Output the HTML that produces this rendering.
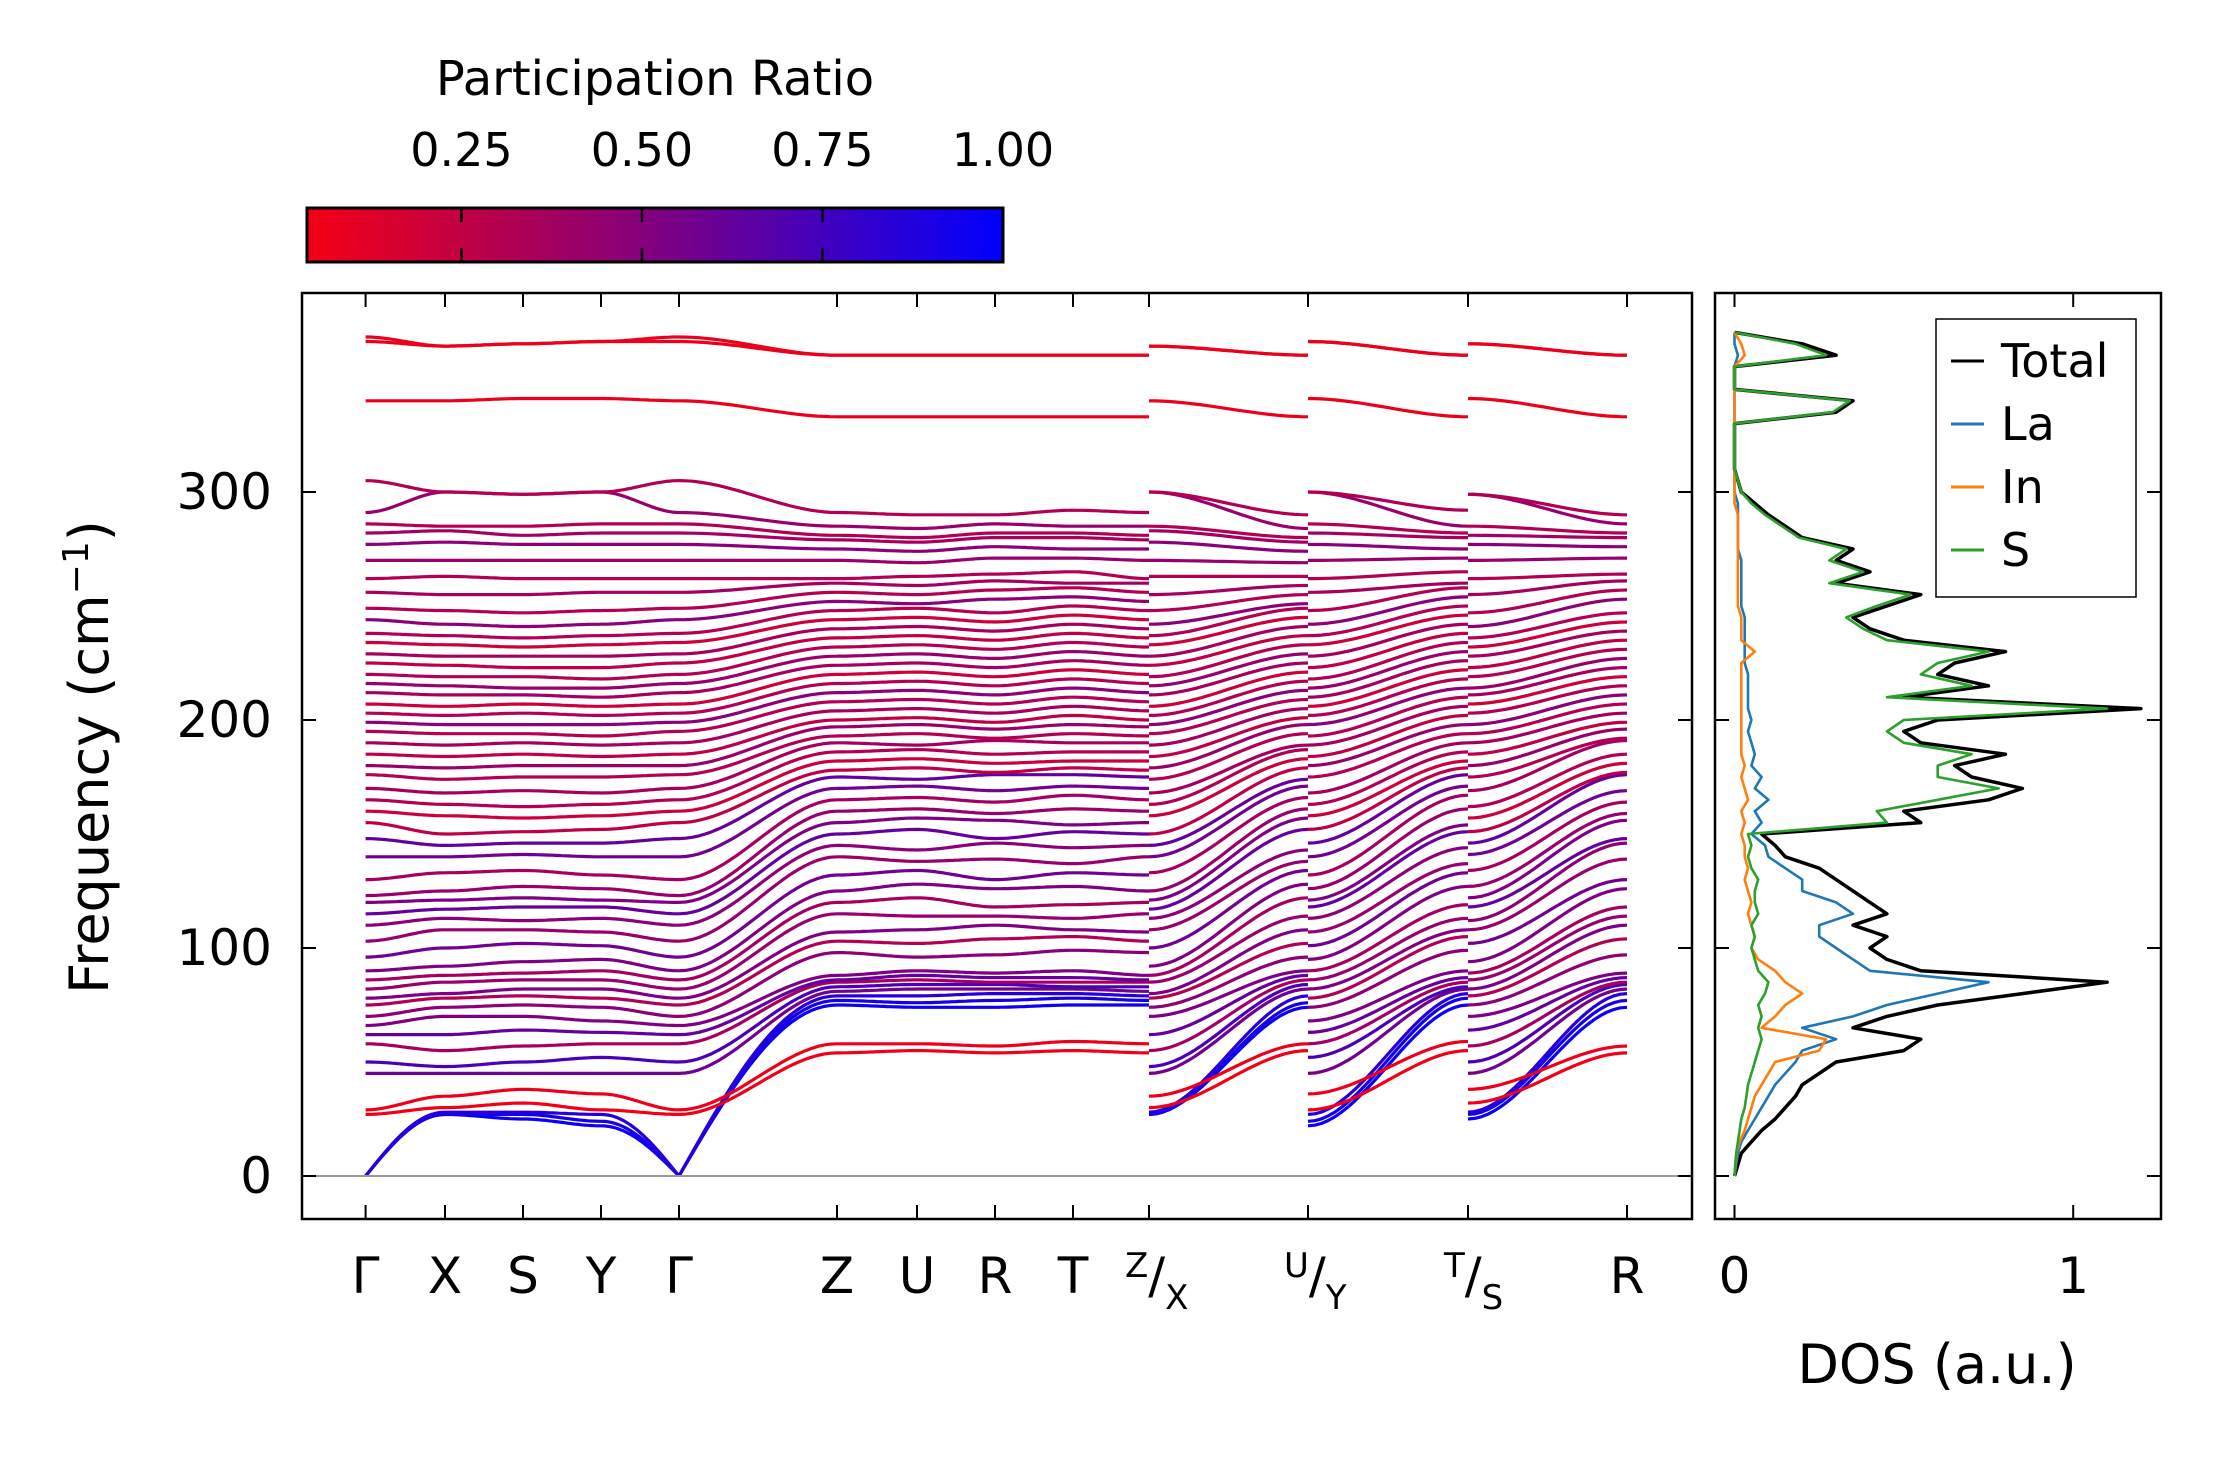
<!DOCTYPE html>
<html><head><meta charset="utf-8">
<style>
html,body{margin:0;padding:0;background:#fff;}
body{width:2222px;height:1455px;position:relative;overflow:hidden;font-family:"Liberation Sans","DejaVu Sans",sans-serif;}
svg text{font-family:"DejaVu Sans","Liberation Sans",sans-serif;fill:#000;}
</style></head>
<body>
<svg id="fig" width="2222" height="1455" viewBox="0 0 2222 1455" xmlns="http://www.w3.org/2000/svg">
<defs>
<linearGradient id="cbgrad" x1="0" x2="1" y1="0" y2="0">
<stop offset="0" stop-color="rgb(245,0,20)"/>
<stop offset="0.5" stop-color="rgb(128,0,128)"/>
<stop offset="1" stop-color="rgb(0,0,255)"/>
</linearGradient>
<clipPath id="mainclip"><rect x="302" y="293" width="1390" height="926"/></clipPath>
<clipPath id="dosclip"><rect x="1715" y="293" width="446" height="926"/></clipPath>
</defs>
<g id="colorbar">
<text x="655" y="95" font-size="48" text-anchor="middle">Participation Ratio</text>
<rect x="307" y="208" width="696" height="54" fill="url(#cbgrad)" stroke="#000" stroke-width="3"/>
</g>
<g id="bands" clip-path="url(#mainclip)"></g>
<g id="dos" clip-path="url(#dosclip)"></g>
<g id="axes"></g>
<text transform="translate(108,757) rotate(-90)" font-size="54" text-anchor="middle">Frequency (cm<tspan font-size="36" dy="-20">−1</tspan><tspan dy="20">)</tspan></text>
<text x="1937" y="1383" font-size="54" text-anchor="middle">DOS (a.u.)</text>
<g id="legend">
<rect x="1936" y="319" width="200" height="278" fill="#fff" stroke="#000" stroke-width="1.5"/>
</g>
</svg>
<script>
// ---- band data (frequencies in cm^-1 at high-symmetry points) ----
const kLabels = ["Γ","X","S","Y","Γ","Z","U","R","T","Z/X","U/Y","T/S","R"];
const bandsG = [0,0,0,27,29,45,50,58,62,66,70,75,78,82,86,90,96,103,110,115,120,123,130,140,148,155,160,165,170,176,180,185,190,195,199,203,207,212,216,220,225,229,234,238,244,249,256,262,270,277,282,286,291,305,340,366,368];
const bandsX = [27,27,28,30,35,45,48,55,62,70,74,78,80,85,88,92,100,108,113,117,121,125,133,140,145,150,158,163,168,174,179,184,189,194,198,202,206,211,215,219,224,228,233,237,242,248,255,263,270,278,283,285,300,300,340,364,364];
const bandsS = [25,27,28,32,38,45,50,57,64,70,75,79,82,86,89,94,102,108,112,118,122,127,134,141,146,151,157,162,169,175,180,185,190,194,198,203,207,211,214,219,223,228,232,236,241,247,255,262,270,277,281,285,299,299,341,365,365];
const bandsY = [22,24,27,29,36,45,52,58,63,68,74,78,82,86,90,95,101,107,113,118,121,126,132,140,146,152,158,163,168,175,180,184,189,193,198,202,206,210,214,218,223,228,233,237,242,248,256,262,270,277,282,286,300,300,341,366,366];
const bandsZ = [75,77,79,54,58,81,83,85,86,88,98,103,107,115,120,125,132,140,145,150,155,160,165,170,175,178,182,186,190,193,197,200,204,208,212,216,220,224,228,232,236,240,244,248,252,256,260,262,270,275,279,281,285,291,333,360,360];
const bandsU = [74,76,79,55,58,82,84,86,88,90,96,102,108,114,122,128,134,138,143,152,157,161,166,171,174,179,183,187,189,194,198,201,205,209,213,217,221,225,229,233,237,241,245,249,251,255,259,263,269,274,278,280,284,290,333,360,360];
const bandsR = [74,77,80,54,57,82,84,85,87,89,97,104,110,114,118,126,130,139,146,148,156,159,164,169,176,177,181,185,191,192,196,199,203,207,211,215,219,223,227,231,235,239,243,247,253,257,261,264,271,276,280,282,286,290,333,360,360];
const bandsT = [75,78,80,55,59,82,83,85,87,90,99,105,108,113,119,127,133,137,144,151,154,161,167,171,176,179,182,186,190,194,198,202,206,210,214,218,222,226,230,234,238,242,246,250,254,258,260,265,271,275,280,282,285,292,333,360,360];
const bandPR = [0.95,0.92,0.85,0.05,0.06,0.55,0.7,0.35,0.6,0.5,0.45,0.3,0.5,0.4,0.35,0.5,0.55,0.4,0.45,0.6,0.5,0.4,0.35,0.55,0.6,0.25,0.2,0.3,0.35,0.3,0.4,0.25,0.35,0.3,0.45,0.3,0.2,0.35,0.4,0.3,0.25,0.35,0.2,0.3,0.45,0.3,0.35,0.3,0.4,0.45,0.35,0.3,0.4,0.3,0.07,0.07,0.07];
// ---- DOS data (per 5 cm^-1) ----
const dosFreq = [0,5,10,15,20,25,30,35,40,45,50,55,60,65,70,75,80,85,90,95,100,105,110,115,120,125,130,135,140,145,150,155,160,165,170,175,180,185,190,195,200,205,210,215,220,225,230,235,240,245,250,255,260,265,270,275,280,285,290,295,300,305,310,315,320,325,330,335,340,345,350,355,360,365,370];
const dosTotal = [0,0.01,0.02,0.05,0.08,0.12,0.15,0.18,0.2,0.25,0.3,0.5,0.55,0.35,0.45,0.6,0.85,1.1,0.55,0.45,0.4,0.45,0.35,0.45,0.4,0.35,0.3,0.25,0.15,0.12,0.08,0.55,0.5,0.75,0.85,0.7,0.65,0.8,0.55,0.5,0.6,1.2,0.5,0.75,0.6,0.65,0.8,0.5,0.4,0.35,0.45,0.55,0.3,0.4,0.3,0.35,0.2,0.15,0.1,0.06,0.02,0.01,0,0,0,0,0,0.3,0.35,0,0,0,0.3,0.2,0];
const dosLa = [0,0.005,0.01,0.02,0.04,0.06,0.08,0.1,0.12,0.15,0.18,0.2,0.3,0.2,0.35,0.45,0.6,0.75,0.4,0.35,0.3,0.25,0.25,0.35,0.3,0.2,0.2,0.15,0.1,0.09,0.05,0.08,0.06,0.1,0.06,0.08,0.05,0.06,0.05,0.04,0.05,0.04,0.04,0.04,0.04,0.03,0.03,0.03,0.03,0.03,0.02,0.02,0.02,0.02,0.02,0.01,0.01,0.01,0.01,0.01,0,0,0,0,0,0,0,0,0,0,0,0,0.01,0,0];
const dosIn = [0,0.003,0.006,0.015,0.03,0.04,0.05,0.06,0.08,0.1,0.12,0.25,0.27,0.08,0.12,0.15,0.2,0.15,0.12,0.07,0.05,0.06,0.05,0.04,0.05,0.04,0.03,0.04,0.03,0.03,0.02,0.03,0.02,0.04,0.03,0.02,0.03,0.02,0.02,0.02,0.02,0.02,0.02,0.02,0.02,0.02,0.06,0.02,0.02,0.02,0.01,0.01,0.01,0.01,0.01,0.01,0.01,0.01,0.01,0,0,0,0,0,0,0,0,0,0,0,0,0,0.03,0.02,0];
const dosS = [0,0.002,0.005,0.01,0.015,0.02,0.03,0.035,0.04,0.05,0.06,0.07,0.08,0.07,0.08,0.07,0.09,0.1,0.07,0.06,0.05,0.06,0.05,0.07,0.06,0.06,0.07,0.05,0.04,0.05,0.04,0.45,0.42,0.6,0.78,0.6,0.6,0.7,0.5,0.45,0.5,1.1,0.45,0.7,0.55,0.6,0.75,0.45,0.38,0.33,0.42,0.52,0.28,0.38,0.28,0.33,0.19,0.14,0.09,0.05,0.02,0.01,0,0,0,0,0,0.29,0.34,0,0,0,0.27,0.18,0];
const dosLabels = ["Total","La","In","S"];
const yTicks = [0,100,200,300];
const cbTicks = [0.25,0.5,0.75,1.0];

// ---- scales ----
const NS = "http://www.w3.org/2000/svg";
const kX = [365.6,445,523,601,679,837,917,995,1073,1149,1308,1468,1627];
function yS(f){ return 1176 - f*2.28; }
function dX(v){ return 1734.5 + v*338.7; }
function cbX(v){ return 307 + (v-0.036)/(1-0.036)*696; }
function prColor(p){ const t=Math.max(0,Math.min(1,(p-0.036)/0.964)); return `rgb(${Math.round(245*(1-t))},0,${Math.round(20+235*t)})`; }
function mk(tag, attrs, parent){ const e=document.createElementNS(NS,tag); for(const k in attrs) e.setAttribute(k,attrs[k]); parent.appendChild(e); return e; }

// ---- bands ----
const segs = [[bandsG,bandsX,0,1],[bandsX,bandsS,1,2],[bandsS,bandsY,2,3],[bandsY,bandsG,3,4],[bandsG,bandsZ,4,5],[bandsZ,bandsU,5,6],[bandsU,bandsR,6,7],[bandsR,bandsT,7,8],[bandsT,bandsZ,8,9],[bandsX,bandsU,9,10],[bandsY,bandsT,10,11],[bandsS,bandsR,11,12]];
const gB = document.getElementById('bands');
for(let b=0;b<bandsG.length;b++){
  let d="";
  for(const s of segs){
    const a=s[0][b], c=s[1][b], x0=kX[s[2]], x1=kX[s[3]];
    const n=24;
    for(let i=0;i<=n;i++){
      const t=i/n; const acoustic = (s[0]===bandsG && b<3) || (s[1]===bandsG && b<3 && s[0]!==bandsG);
      let w;
      if(acoustic){ w = s[0]===bandsG ? Math.sin(t*Math.PI/2) : 1-Math.cos(t*Math.PI/2); }
      else w = t*t*(3-2*t);
      const f=a+(c-a)*w;
      d += (i===0?"M":"L")+(x0+(x1-x0)*t).toFixed(1)+","+yS(f).toFixed(1);
    }
  }
  const p=mk('path',{d:d,fill:'none',stroke:prColor(bandPR[b]),'stroke-width':3.2,'stroke-linejoin':'round'},gB);
  
  
}

// ---- DOS ----
const gD=document.getElementById('dos');
const dosSeries=[[dosTotal,'#000'],[dosLa,'#1f77b4'],[dosIn,'#ff7f0e'],[dosS,'#2ca02c']];
dosSeries.forEach((s,k)=>{
  let d="";
  dosFreq.forEach((f,i)=>{ d+=(i?"L":"M")+dX(s[0][i]).toFixed(1)+","+yS(f).toFixed(1); });
  const p=mk('path',{d:d,fill:'none',stroke:s[1],'stroke-width':k===0?3.5:2.6,'stroke-linejoin':'round'},gD);
  
  
});

// ---- legend ----
const gL=document.getElementById('legend');
dosSeries.forEach((s,k)=>{
  const y=361+k*63;
  const ln=mk('line',{x1:1951,x2:1984,y1:y,y2:y,stroke:s[1],'stroke-width':3},gL);
  
  
  const t=mk('text',{x:2001,y:y+16,'font-size':46},gL);
  t.textContent=dosLabels[k];
  
  
});

// ---- axes ----
const gA=document.getElementById('axes');
const zl=mk('line',{x1:302,x2:1692,y1:yS(0),y2:yS(0),stroke:'#999','stroke-width':2},gA);


const fr1=mk('rect',{x:302,y:293,width:1390,height:926,fill:'none',stroke:'#000','stroke-width':2.5},gA);


const fr2=mk('rect',{x:1715,y:293,width:446,height:926,fill:'none',stroke:'#000','stroke-width':2.5},gA);


yTicks.forEach(v=>{
  const y=yS(v);
  [[302,316],[1678,1692],[1715,1729],[2147,2161]].forEach(p=>mk('line',{x1:p[0],x2:p[1],y1:y,y2:y,stroke:'#000','stroke-width':2},gA));
  const t=mk('text',{x:272,y:y+17,'font-size':50,'text-anchor':'end'},gA);
  t.textContent=String(v);
  
  
});
kX.forEach((x,i)=>{
  mk('line',{x1:x,x2:x,y1:1219,y2:1205,stroke:'#000','stroke-width':2},gA);
  mk('line',{x1:x,x2:x,y1:293,y2:307,stroke:'#000','stroke-width':2},gA);
  const lab=kLabels[i];
  const t=mk('text',{x:x,y:1293,'font-size':50,'text-anchor':'middle'},gA);
  if(lab.indexOf('/')>0){
    const parts=lab.split('/');
    t.setAttribute('x',x-24); t.setAttribute('text-anchor','start');
    t.innerHTML=`<tspan font-size="34" dy="-16">${parts[0]}</tspan><tspan dy="16">/</tspan><tspan font-size="34" dy="16">${parts[1]}</tspan>`;
  } else t.textContent=lab;
  
  
});
[0,1].forEach(v=>{
  const x=dX(v);
  mk('line',{x1:x,x2:x,y1:1219,y2:1205,stroke:'#000','stroke-width':2},gA);
  mk('line',{x1:x,x2:x,y1:293,y2:307,stroke:'#000','stroke-width':2},gA);
  const t=mk('text',{x:x,y:1293,'font-size':50,'text-anchor':'middle'},gA);
  t.textContent=String(v);
  
  
});
const gC=document.getElementById('colorbar');
cbTicks.forEach(v=>{
  const x=cbX(v);
  if(v<1){
    mk('line',{x1:x,x2:x,y1:208,y2:222,stroke:'#000','stroke-width':2.5},gC);
    mk('line',{x1:x,x2:x,y1:248,y2:262,stroke:'#000','stroke-width':2.5},gC);
  }
  const t=mk('text',{x:x,y:166,'font-size':46,'text-anchor':'middle'},gC);
  t.textContent=v.toFixed(2);
  
  
});
</script>
</body></html>
